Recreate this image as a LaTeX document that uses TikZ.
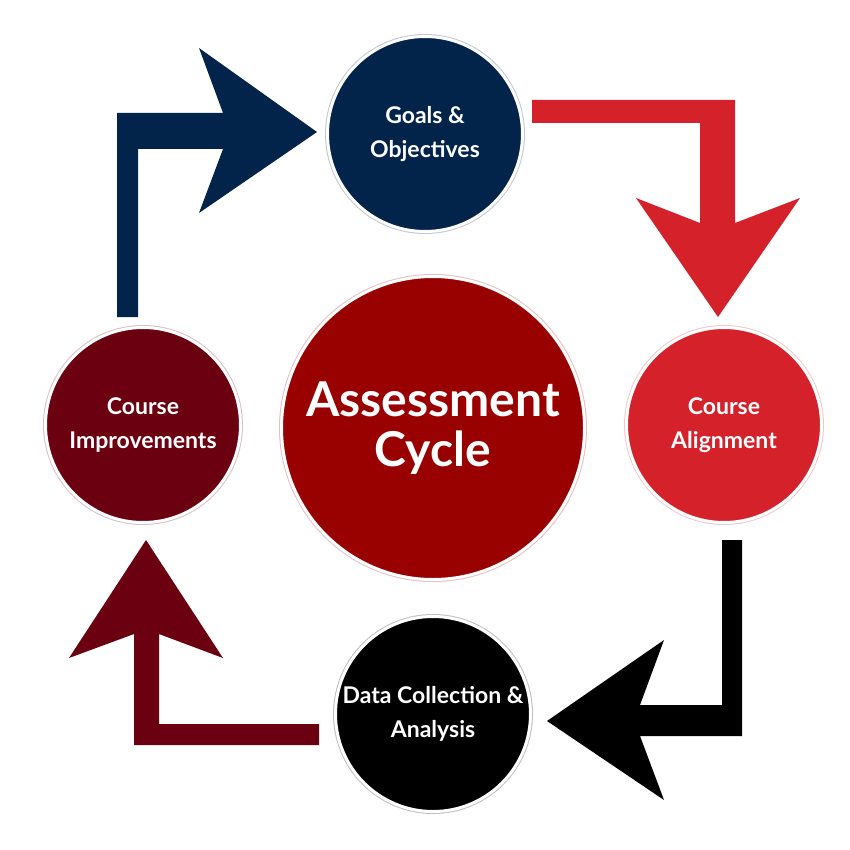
\documentclass[tikz,border=0pt]{standalone}
\usepackage{fontspec}
\setmainfont{Lato}
\usepackage{xcolor}
\usepackage{tikz}
\definecolor{cyclenavy}{HTML}{02244A}
\definecolor{cyclered}{HTML}{D4212A}
\definecolor{cycledark}{HTML}{990000}
\definecolor{cyclemaroon}{HTML}{6A0010}
\definecolor{cycleblack}{HTML}{000000}

\begin{document}
\begin{tikzpicture}[x=1pt, y=-1pt,
    stage/.style={circle, fill=#1, draw=white, line width=3pt, minimum size=195pt,
      inner sep=0pt, preaction={draw=#1!25, line width=5pt},
      text=white, align=center, font=\fontsize{23}{34}\selectfont\bfseries},
    hub/.style={stage=cycledark, minimum size=303pt,
      font=\fontsize{48}{50}\selectfont\bfseries}]
  \useasboundingbox (0,0) rectangle (850,850);

  % stages of the cycle
  \node[hub] (cycle) at (433,428) {Assessment\\Cycle};
  \node[stage=cyclenavy] (goals) at (425,134) {Goals \&\\Objectives};
  \node[stage=cyclered] (align) at (724,425) {Course\\Alignment};
  \node[stage=cycleblack] (data) at (433,714) {Data Collection \&\\Analysis};
  \node[stage=cyclemaroon] (improve) at (143,425) {Course\\Improvements};

  % bent arrows between the stages
  \fill[cyclenavy] (117,317) -- (117,113) -- (223,113) -- (199,48) -- (317,132)
    -- (199,213) -- (223,149) -- (138,149) -- (138,317) -- cycle;
  \fill[cyclered] (532,100) -- (735,100) -- (735,223) -- (800,198) -- (718,317)
    -- (636,198) -- (700,223) -- (700,123) -- (532,123) -- cycle;
  \fill[cycleblack] (742,540) -- (742,736) -- (640,736) -- (664,800) -- (547,721)
    -- (664,640) -- (640,705) -- (722,705) -- (722,540) -- cycle;
  \fill[cyclemaroon] (319,724) -- (319,745) -- (134,745) -- (134,634) -- (69,658)
    -- (146,540) -- (223,658) -- (159,634) -- (159,724) -- cycle;
\end{tikzpicture}
\end{document}
